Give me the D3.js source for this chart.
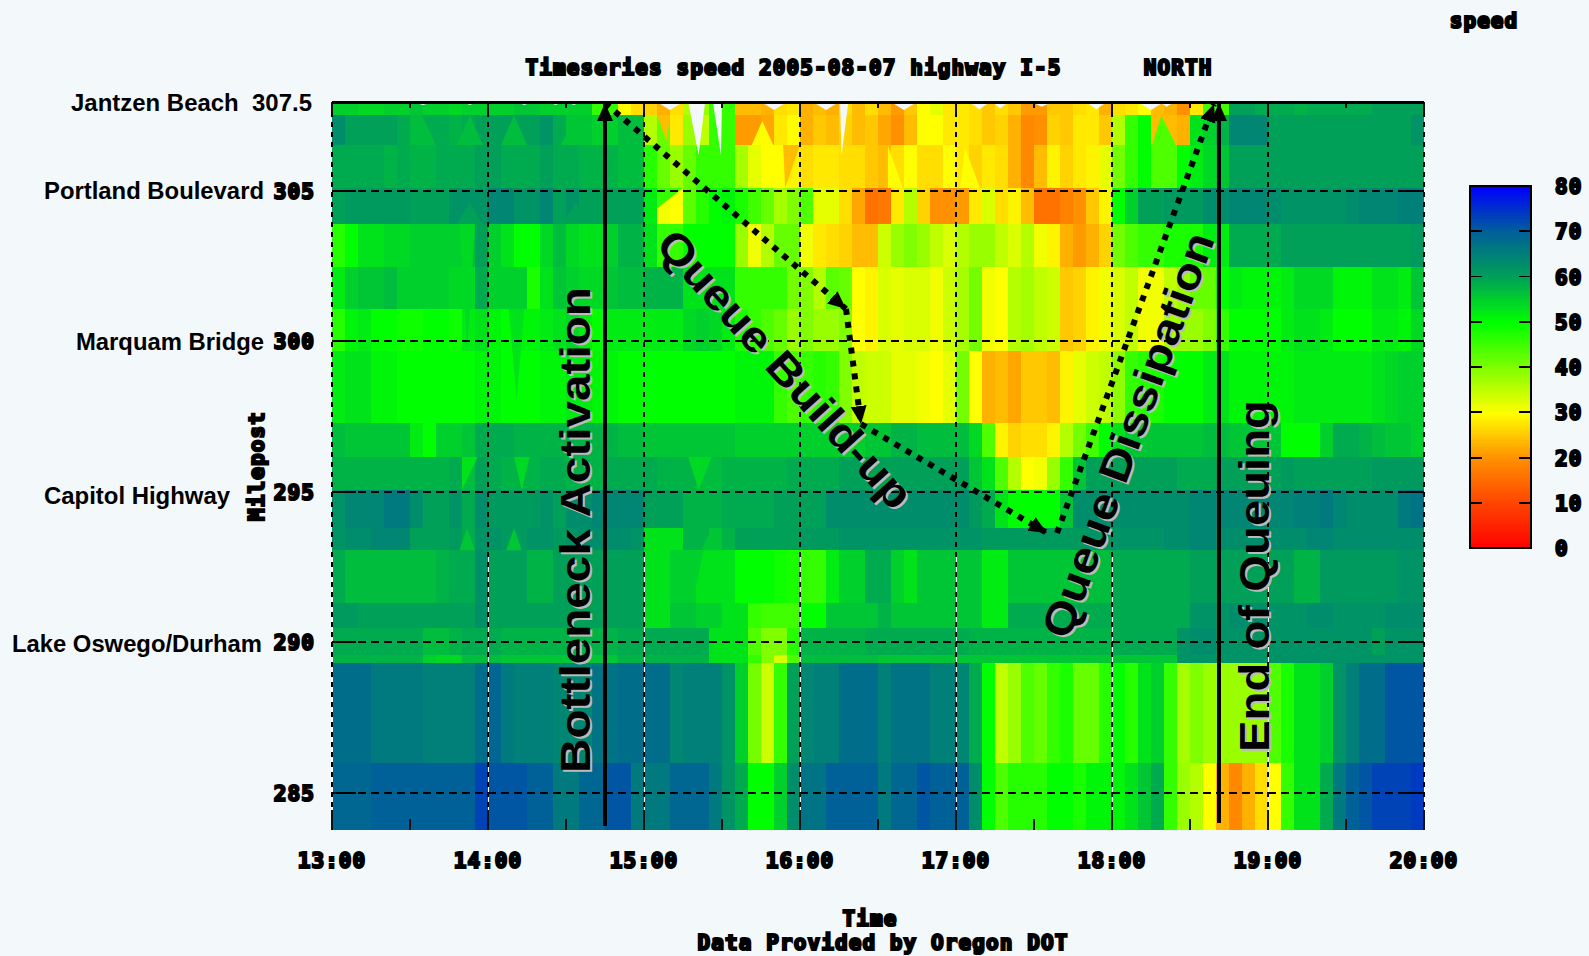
<!DOCTYPE html>
<html>
<head>
<meta charset="utf-8">
<title>Timeseries speed I-5 NORTH</title>
<script src="https://cdnjs.cloudflare.com/ajax/libs/d3/7.8.5/d3.min.js"></script>
<style>
	html, body { margin: 0; padding: 0; background: #f3f8fb; overflow: hidden; }
	.pix { font-family: "DejaVu Sans Mono", monospace; font-weight: bold; font-size: 21px; letter-spacing: 1.1px; fill: #000; stroke: #000; stroke-width: 2.2px; }
	.place { font-family: "Liberation Sans", Arial, sans-serif; font-weight: bold; font-size: 23px; fill: #000; }
	.note { font-family: "Liberation Sans", Arial, sans-serif; font-weight: bold; font-size: 43px; }
</style>
</head>
<body>
<svg id="chart" width="1589" height="956"></svg>
<script>
// minutes after 13:00 for every tick, mileposts for the horizontal grid
const hourTicks = [0, 60, 120, 180, 240, 300, 360, 420];
const hourLabels = ["13:00", "14:00", "15:00", "16:00", "17:00", "18:00", "19:00", "20:00"];
const halfHourTicks = [30, 90, 150, 210, 270, 330, 390];
const mileTicks = [305, 300, 295, 290, 285];
const legendTicks = [0, 10, 20, 30, 40, 50, 60, 70, 80];

// detector bands, top to bottom, in mileposts
const rowEdges = [307.94, 307.51, 306.51, 305.08, 303.89, 302.46, 301.07, 299.67, 297.28, 296.15, 295.06, 293.79, 293.06, 291.3, 290.47, 289.57, 289.31, 285.99, 283.77];

// speed per 5 minute column
const row00 = [55,55,54,54,55,55,56,55,55,54,55,55,55,55,56,56,55,55,55,55,46,46,30,27,26,23,27,36,38,46,46,24,24,23,27,28,23,24,23,27,24,27,24,21,25,30,32,28,28,27,25,27,25,21,21,25,25,27,28,23,27,28,30,24,23,20,28,45,45,60,60,59,59,59,58,59,59,59,59,59,60,60,60,60];
const row01 = [63,60,60,60,60,59,57,59,59,58,59,60,60,60,60,60,62,59,56,56,55,55,57,57,36,42,28,38,35,46,46,21,21,22,28,30,23,25,24,26,24,25,22,20,24,30,30,28,28,27,25,26,23,19,20,26,25,28,28,25,36,46,50,24,24,23,53,55,58,64,64,64,60,60,60,60,60,60,60,60,60,60,60,62];
const row02 = [59,59,59,59,58,59,58,58,59,59,59,60,60,59,59,59,60,59,59,58,58,58,57,57,47,42,38,42,46,46,46,37,32,30,30,29,27,28,28,27,27,25,24,27,30,27,27,30,28,26,28,27,23,19,24,29,26,28,29,32,41,46,50,44,44,50,52,54,56,60,60,60,60,60,60,60,60,60,60,60,60,60,60,60];
const row03 = [60,61,61,61,61,61,60,60,60,62,62,62,64,64,62,62,64,60,62,60,60,60,60,60,52,31,30,43,47,50,51,48,45,42,37,40,44,32,32,27,22,16,17,28,36,26,20,20,21,28,33,27,29,24,16,16,18,20,25,29,50,55,60,60,61,61,61,63,63,64,64,64,63,62,62,62,62,62,63,64,64,64,65,65];
const row04 = [47,50,53,53,54,54,55,55,55,55,57,60,55,53,50,50,54,57,54,53,53,55,58,58,53,46,46,50,50,50,50,38,31,36,42,42,31,28,27,26,24,24,34,38,40,38,35,33,36,38,38,35,33,36,31,29,23,21,23,26,41,44,46,46,48,48,48,52,52,59,59,59,59,60,60,60,60,60,60,60,60,60,60,61];
const row05 = [52,55,56,56,57,55,55,55,55,54,54,59,55,55,55,48,53,56,55,54,54,56,57,57,58,58,58,53,53,53,53,46,46,46,46,41,40,36,43,42,30,29,33,32,33,33,31,34,37,41,31,30,36,37,35,34,25,26,29,31,33,35,31,31,35,38,42,42,50,52,51,51,51,52,54,54,54,51,51,51,53,53,52,56];
const row06 = [47,51,52,50,50,49,49,50,50,49,52,53,51,50,51,51,52,53,54,52,50,52,52,52,52,52,52,54,55,54,52,48,46,44,42,38,40,38,38,40,30,29,33,32,33,33,31,34,37,41,31,30,36,37,35,34,25,26,29,31,33,35,31,31,37,38,38,40,46,50,50,50,50,52,53,53,52,50,50,50,52,52,51,54];
const row07 = [52,53,53,51,51,50,50,50,50,50,50,51,51,50,50,50,51,51,52,52,51,51,50,50,50,50,50,50,50,50,50,51,51,51,46,44,46,47,46,40,35,34,34,32,32,31,30,32,41,30,23,24,22,25,25,24,29,32,34,35,39,46,47,48,50,50,50,52,53,51,51,51,51,51,52,52,52,52,52,52,53,54,55,55];
const row08 = [57,56,56,56,56,56,52,50,55,55,56,59,59,59,58,58,58,58,58,58,58,58,57,57,56,56,56,56,56,56,56,55,55,55,55,55,55,55,55,55,55,56,56,58,58,57,57,57,57,54,44,29,26,27,27,29,36,41,45,50,53,56,56,56,56,56,56,57,57,56,56,56,56,50,50,50,55,59,59,58,57,56,56,55];
const row09 = [58,58,58,58,58,58,58,58,58,59,57,60,59,58,58,58,59,59,58,58,58,59,59,59,59,58,58,58,57,57,58,58,58,58,58,59,59,59,59,60,60,60,60,60,60,60,60,60,60,56,53,44,36,30,31,38,46,56,60,60,60,60,60,60,60,59,59,59,60,60,60,60,60,61,60,60,60,60,60,60,61,61,61,61];
const row10 = [62,64,64,64,66,66,63,60,60,62,59,63,61,61,61,61,62,60,63,63,64,64,64,64,60,60,60,58,58,58,59,59,59,59,60,60,60,60,63,63,63,63,63,63,63,63,63,63,63,61,59,53,50,50,50,50,56,63,63,63,63,63,63,63,63,63,64,64,64,64,64,64,64,64,65,65,66,64,63,63,63,63,66,67];
const row11 = [62,63,63,64,64,64,60,60,60,61,59,62,62,61,61,62,62,61,62,63,63,63,63,62,53,53,53,58,58,56,58,60,60,60,60,60,61,61,61,62,62,62,62,62,62,62,62,62,62,62,61,61,61,61,61,61,61,61,62,62,62,62,62,62,63,63,64,64,63,63,63,63,63,63,63,64,64,63,63,63,63,63,63,63];
const row12 = [59,57,57,57,57,57,57,57,58,59,59,62.5,60,60,60,58,58,60,60,60,60,60,60,60,53,53,55,55,53,53,53,50,50,50,49,48,46,46,52,55,55,59,59,55,53,56,56,56,56,56,52,52,56,56,56,56,56,56,57,57,59,59,59,59,59,59,60,60,60,60,60,60,60,60,58,58,61,61,61,61,61,61,62,62];
const row13 = [61,61,60,60,60,60,60,60,60,60,60,62.5,60,60,60,60,60,60,60,60,60,60,60,60,53,53,56,56,55,55,53,53,46,45,45,45,50,50,56,56,56,56,58,56,56,56,56,56,56,56,52,52,59,59,59,59,59,59,59,59,59,59,59,59,59,59,62,62,62,63,63,63,62,62,62,63,63,62,62,62,62,63,63,63];
const row14 = [59,59,59,59,59,59,59,57,57,58,59,59,59,58,58,58,58,58,58,58,58,58,59,59,59,59,59,59,59,53,53,53,44,40,40,47,58,58,58,58,58,59,59,59,59,59,59,59,59,58,58,58,58,58,58,58,58,58,58,58,59,59,59,59,59,62,63,63,62,62,62,62,62,62,62,62,62,62,62,62,60,62,62,62];
const row15 = [58,58,58,58,58,58,58,55,54,54,57,57,57,56,56,56,56,56,56,56,56,56,58,58,58,58,58,58,58,53,53,53,46,40,33,44,57,57,57,57,57,57,56,56,56,56,56,56,56,56,56,56,56,56,56,56,56,56,56,56,56,56,56,56,56,62,62,62,62,62,62,62,62,62,62,62,62,62,62,62,62,62,62,62];
const row16 = [68,68,68,66,66,66,66,65,65,65,65,68,69,66,65,65,65,64,64,64,67,67,68,68,68,68,64,65,65,65,62,55,41,34,46,60,64,65,65,68,68,68,65,67,67,67,65,65,64,59,50,35,38,44,42,46,48,42,42,47,50,47,53,55,46,37,40,38,38,38,38,38,44,48,53,53,55,62,65,68,68,71,71,71];
const row17 = [69,69,69,70,70,70,70,70,70,70,70,73,71,71,71,70,70,66,66,69,69,71,71,66,66,66,69,69,69,66,62,59,50,50,55,63,67,67,70,70,70,70,66,69,69,71,70,70,70,63,50,44,47,47,47,50,50,48,51,51,51,53,56,59,46,38,36,30,23,19,23,27,30,46,53,53,59,66,70,71,73,73,73,74];
const speedRows = [row00, row01, row02, row03, row04, row05, row06, row07, row08, row09, row10, row11, row12, row13, row14, row15, row16, row17];

// triangles left by the interpolation: left minute, right minute, tip minute, base mile, tip mile, speed (null = no data)
const wedges = [
	[137, 143.5, 141, 307.94, 306.18, null],
	[146.5, 150, 149.6, 307.94, 306.18, null],
	[195.4, 198.6, 196, 307.94, 306.18, null],
	[30, 40, 34.6, 306.51, 307.5, 57],
	[48, 58, 53, 306.51, 307.5, 57],
	[65, 75, 70, 306.51, 307.5, 57],
	[88, 100, 94, 306.51, 307.5, 56],
	[30, 40, 34.6, 303.89, 304.6, 60],
	[48, 58, 53, 303.89, 304.6, 60],
	[88, 100, 94, 303.89, 304.6, 60],
	[49, 55, 52, 303.89, 299.67, 54],
	[68, 74, 71, 301.07, 298.04, 53],
	[50, 56, 50, 296.15, 295.06, 53],
	[70, 76, 73, 296.15, 295.06, 54],
	[137, 146, 141, 296.15, 295.06, 54],
	[49, 55, 52, 293.06, 293.79, 56],
	[67, 73, 70, 293.06, 293.79, 56],
	[142, 150, 146, 293.06, 293.79, 56],
	[135, 143, 139, 293.06, 291.46, 55],
	[161.4, 169.7, 165.5, 306.51, 307.31, 30],
	[173.5, 180, 174.3, 306.51, 305.08, 24],
	[213.8, 219.6, 213.8, 305.08, 306.48, 30],
	[241.5, 249.2, 243.5, 305.08, 306.41, 30],
	[315.4, 324.6, 319, 306.51, 307.48, 44],
	[125, 130, 128.8, 307.51, 306.64, 24],
	[125, 135, 125, 305.08, 304.4, 46],
];

// little no-data bites along the top edge: minute, half width, tip mile
const notches = [[35, 4, 307.84], [53, 3, 307.84], [74, 3, 307.84], [86, 3, 307.84], [93, 3, 307.84], [130, 5, 307.67], [170, 5, 307.67], [190, 5, 307.67], [220, 5, 307.67], [249, 4, 307.7], [257, 3, 307.72], [273, 4, 307.78], [294, 4, 307.7], [315, 5, 307.67], [321, 3, 307.78]];

// texts
const rowPlaces = ["Jantzen Beach  307.5", "Portland Boulevard", "Marquam Bridge", "Capitol Highway", "Lake Oswego/Durham"];
const speedStops = [0, 10, 20, 30, 40, 50, 60, 70, 80];
const speedColors = ["#ff0000", "#ff4400", "#ff9000", "#ffff00", "#80ff00", "#00ff00", "#00a058", "#006098", "#0000ff"];

const svg = d3.select("#chart");

const x = d3.scaleLinear().domain([0, 420]).range([332, 1424]);
const y = d3.scaleLinear().domain([305, 285]).range([190.5, 793]);
const color = d3.scaleLinear().domain(speedStops).range(speedColors);
const legendY = d3.scaleLinear().domain([0, 80]).range([548, 186]);

// heat cells
const cells = speedRows.flatMap((row, r) =>
	row.map((v, c) => ({ r, c, v })),
);

svg
	.append("g")
	.attr("shape-rendering", "crispEdges")
	.selectAll("rect")
	.data(cells)
	.enter()
	.append("rect")
	.attr("x", (d) => x(d.c * 5))
	.attr("y", (d) => y(rowEdges[d.r]))
	.attr("width", () => x(5) - x(0))
	.attr("height", (d) => y(rowEdges[d.r + 1]) - y(rowEdges[d.r]))
	.attr("fill", (d) => color(d.v));

// interpolation triangles
svg
	.append("g")
	.selectAll("path")
	.data(wedges)
	.enter()
	.append("path")
	.attr("d", (d) =>
		d3.line()([
			[x(d[0]), y(d[3])],
			[x(d[1]), y(d[3])],
			[x(d[2]), y(d[4])],
		]) + "Z",
	)
	.attr("fill", (d) => (d[5] === null ? "#f3f8fb" : color(d[5])));

svg
	.append("g")
	.selectAll("path")
	.data(notches)
	.enter()
	.append("path")
	.attr("d", (d) =>
		d3.line()([
			[x(d[0] - d[1]), y(rowEdges[0])],
			[x(d[0] + d[1]), y(rowEdges[0])],
			[x(d[0]), y(d[2])],
		]) + "Z",
	)
	.attr("fill", "#f3f8fb");

// grid
const grid = svg.append("g").attr("shape-rendering", "crispEdges");

grid
	.selectAll(".under")
	.data(hourTicks)
	.enter()
	.append("line")
	.attr("x1", (d) => x(d))
	.attr("x2", (d) => x(d))
	.attr("y1", y(293))
	.attr("y2", y(rowEdges[rowEdges.length - 1]))
	.attr("stroke", "#fff");

grid
	.selectAll(".vgrid")
	.data(hourTicks)
	.enter()
	.append("line")
	.attr("x1", (d) => x(d))
	.attr("x2", (d) => x(d))
	.attr("y1", y(rowEdges[0]))
	.attr("y2", y(rowEdges[rowEdges.length - 1]))
	.attr("stroke", "#000")
	.attr("stroke-width", 2)
	.attr("stroke-dasharray", "5 5");

grid
	.selectAll(".hgrid")
	.data(mileTicks)
	.enter()
	.append("line")
	.attr("x1", x(0))
	.attr("x2", x(420))
	.attr("y1", (d) => y(d))
	.attr("y2", (d) => y(d))
	.attr("stroke", "#000")
	.attr("stroke-width", 2)
	.attr("stroke-dasharray", "8 5");

// solid ends of the grid lines and the tick marks
grid
	.selectAll(".ltick")
	.data(mileTicks)
	.enter()
	.append("line")
	.attr("x1", x(0))
	.attr("x2", x(0) + 24)
	.attr("y1", (d) => y(d))
	.attr("y2", (d) => y(d))
	.attr("stroke", "#000")
	.attr("stroke-width", 2);

grid
	.selectAll(".rtick")
	.data(mileTicks)
	.enter()
	.append("line")
	.attr("x1", x(420) - 24)
	.attr("x2", x(420))
	.attr("y1", (d) => y(d))
	.attr("y2", (d) => y(d))
	.attr("stroke", "#000")
	.attr("stroke-width", 2);

const allTicks = hourTicks
	.map((t) => ({ t, len: 20 }))
	.concat(halfHourTicks.map((t) => ({ t, len: 11 })));

grid
	.selectAll(".btick")
	.data(allTicks)
	.enter()
	.append("line")
	.attr("x1", (d) => x(d.t))
	.attr("x2", (d) => x(d.t))
	.attr("y1", 830)
	.attr("y2", (d) => 830 - d.len)
	.attr("stroke", "#111")
	.attr("stroke-width", 2);

grid
	.selectAll(".ttick")
	.data(allTicks)
	.enter()
	.append("line")
	.attr("x1", (d) => x(d.t))
	.attr("x2", (d) => x(d.t))
	.attr("y1", 102)
	.attr("y2", (d) => 102 + d.len * 0.5)
	.attr("stroke", "#111")
	.attr("stroke-width", 2);

grid
	.append("line")
	.attr("x1", x(0))
	.attr("x2", x(420))
	.attr("y1", 102)
	.attr("y2", 102)
	.attr("stroke", "#000")
	.attr("stroke-width", 3);

// pixel font labels from the plotting program
function pix(px, py, str, anchor = "middle", rotate = 0) {
	return svg
		.append("text")
		.attr("class", "pix")
		.attr("text-anchor", anchor)
		.attr("transform", `translate(${px},${py}) rotate(${rotate})`)
		.text(str);
}

pix(869, 75, "Timeseries speed 2005-08-07 highway I-5      NORTH").style("white-space", "pre");
pix(1484, 28, "speed");
pix(264, 466, "Milepost", "middle", -90);
pix(870, 926, "Time");
pix(883, 950, "Data Provided by Oregon DOT");

svg
	.append("g")
	.selectAll("text")
	.data(hourTicks)
	.enter()
	.append("text")
	.attr("class", "pix")
	.attr("text-anchor", "middle")
	.attr("x", (d) => x(d))
	.attr("y", 868)
	.text((d, i) => hourLabels[i]);

svg
	.append("g")
	.selectAll("text")
	.data(mileTicks)
	.enter()
	.append("text")
	.attr("class", "pix")
	.attr("text-anchor", "end")
	.attr("x", 315)
	.attr("y", (d) => y(d) + 8)
	.text((d) => d);

// place names
const placeSpots = [
	[71, 111, 241],
	[44, 199, 220],
	[76, 350, 188],
	[44, 504, 186],
	[12, 652, 250],
];
svg
	.append("g")
	.selectAll("text")
	.data(rowPlaces)
	.enter()
	.append("text")
	.attr("class", "place")
	.attr("x", (d, i) => placeSpots[i][0])
	.attr("y", (d, i) => placeSpots[i][1])
	.attr("textLength", (d, i) => placeSpots[i][2])
	.attr("lengthAdjust", "spacingAndGlyphs")
	.style("white-space", "pre")
	.text((d) => d);

// colour legend
const legend = svg.append("g").attr("shape-rendering", "crispEdges");
legend
	.selectAll("rect")
	.data(d3.range(0, 80, 0.5))
	.enter()
	.append("rect")
	.attr("x", 1470)
	.attr("width", 61)
	.attr("y", (d) => legendY(d + 0.5))
	.attr("height", legendY(0) - legendY(0.5) + 1)
	.attr("fill", (d) => color(d + 0.25));
legend
	.append("rect")
	.attr("x", 1470)
	.attr("y", 186)
	.attr("width", 61)
	.attr("height", 362)
	.attr("fill", "none")
	.attr("stroke", "#000")
	.attr("stroke-width", 2);
legendTicks.slice(1, -1).forEach((t) => {
	[[1470, 1482], [1519, 1531]].forEach((seg) => {
		legend
			.append("line")
			.attr("x1", seg[0])
			.attr("x2", seg[1])
			.attr("y1", legendY(t))
			.attr("y2", legendY(t))
			.attr("stroke", "#000")
			.attr("stroke-width", t === 60 ? 1 : 2);
	});
});
svg
	.append("g")
	.selectAll("text")
	.data(legendTicks)
	.enter()
	.append("text")
	.attr("class", "pix")
	.attr("x", 1555)
	.attr("y", (d) => legendY(d) + 8)
	.text((d) => d);

// hand drawn annotations on top
const defs = svg.append("defs");
defs
	.append("marker")
	.attr("id", "head")
	.attr("markerUnits", "userSpaceOnUse")
	.attr("markerWidth", 20)
	.attr("markerHeight", 18)
	.attr("refX", 18)
	.attr("refY", 8)
	.attr("orient", "auto")
	.append("path")
	.attr("d", "M0,0L18,8L0,16Z")
	.attr("fill", "#000");

const solidArrows = [
	[[605, 826], [605, 103]],
	[[1219, 823], [1219, 103]],
];
const dottedArrows = [
	[[605, 103], [846, 309]],
	[[846, 309], [861, 424]],
	[[861, 424], [1047, 533]],
	[[1057, 533], [1214, 104]],
];

const notes = svg.append("g");
notes
	.selectAll(".solid")
	.data(solidArrows)
	.enter()
	.append("path")
	.attr("d", d3.line())
	.attr("stroke", "#000")
	.attr("stroke-width", 4)
	.attr("fill", "none")
	.attr("marker-end", "url(#head)");
notes
	.selectAll(".dotted")
	.data(dottedArrows)
	.enter()
	.append("path")
	.attr("d", d3.line())
	.attr("stroke", "#000")
	.attr("stroke-width", 6)
	.attr("stroke-dasharray", "6 7")
	.attr("fill", "none")
	.attr("marker-end", "url(#head)");

const noteTexts = [
	{ text: "Bottleneck Activation", cx: 590, cy: 530, angle: -90, len: 486 },
	{ text: "End of Queuing", cx: 1269, cy: 576, angle: -90, len: 352 },
	{ text: "Queue Build-up", cx: 774, cy: 379, angle: 48, len: 358 },
	{ text: "Queue Dissipation", cx: 1142, cy: 440, angle: -70, len: 428 },
];
[["#bbb", 2], ["#000", 0]].forEach(([fill, off]) => {
	notes
		.append("g")
		.selectAll("text")
		.data(noteTexts)
		.enter()
		.append("text")
		.attr("class", "note")
		.attr("fill", fill)
		.attr("text-anchor", "middle")
		.attr("textLength", (d) => d.len)
		.attr("lengthAdjust", "spacingAndGlyphs")
		.attr("transform", (d) => `translate(${d.cx + off},${d.cy + off}) rotate(${d.angle})`)
		.text((d) => d.text);
});
</script>
</body>
</html>
